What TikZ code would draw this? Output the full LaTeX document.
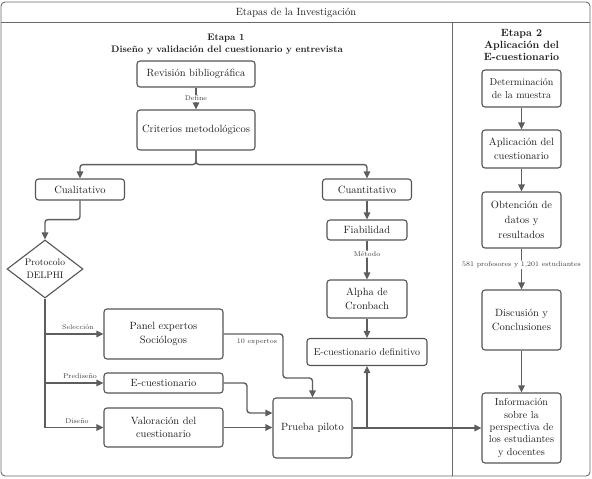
\documentclass[tikz,border=0pt]{standalone}
\usetikzlibrary{shapes.geometric,arrows.meta}
\definecolor{linegray}{HTML}{5E5E5E}
\definecolor{boxgray}{HTML}{555555}
\definecolor{framegray}{HTML}{6A6A6A}
\definecolor{txt}{HTML}{1E1E1E}
\begin{document}
\begin{tikzpicture}[x=1pt,y=-1pt,
  box/.style={draw=boxgray,line width=1.1pt,rounded corners=3pt,fill=white,align=center,inner sep=1pt,font=\fontsize{10.5}{13.5}\selectfont,text=txt},
  diabox/.style={draw=boxgray,line width=1.1pt,shape=diamond,fill=white,inner sep=0pt},
  arr/.style={draw=linegray,line width=1.4pt,-{Triangle[length=7pt,width=6.5pt]},rounded corners=3pt},
  ln/.style={draw=linegray,line width=1.4pt,rounded corners=3pt},
  lab/.style={font=\fontsize{7}{8.5}\selectfont,text=black!75,inner sep=1pt},
  head/.style={font=\bfseries\fontsize{9.5}{12}\selectfont,text=txt,align=center,inner sep=0pt},
  frame/.style={draw=framegray,line width=0.9pt}]
\useasboundingbox (0,0) rectangle (592,479);
% frame
\draw[frame,rounded corners=4pt] (1,2) rectangle (590,476);
\draw[frame] (1,22) -- (590,22);
\draw[frame] (452,22) -- (452,476);
\node[font=\fontsize{10.5}{12}\selectfont,text=txt] (title) at (296,12.5) {Etapas de la Investigación};
\node[head] (e1a) at (226,38) {Etapa 1};
\node[head] (e1b) at (227,50.5) {Diseño y validación del cuestionario y entrevista};
\node[head,font=\bfseries\fontsize{10.5}{12}\selectfont] (e2) at (521.5,44.5) {Etapa 2\\Aplicación del\\E-cuestionario};
% boxes
\node[box,minimum width=118pt,minimum height=26pt] (rev) at (196,74) {Revisión bibliográfica};
\node[box,minimum width=118pt,minimum height=40pt] (crit) at (196,130) {Criterios metodológicos};
\node[box,minimum width=89pt,minimum height=21pt] (cual) at (80,189.5) {Cualitativo};
\node[box,minimum width=89pt,minimum height=21pt] (cuan) at (367,189.5) {Cuantitativo};
\node[diabox,minimum width=76pt,minimum height=58pt,
      label={[font=\fontsize{9.5}{13}\selectfont,text=txt,align=center]center:Protocolo\\DELPHI}] (delphi) at (45,269) {};
\node[box,minimum width=119pt,minimum height=50pt] (panel) at (163.5,334) {Panel expertos\\Sociólogos};
\node[box,minimum width=119pt,minimum height=20pt] (ecue) at (163.5,383) {E-cuestionario};
\node[box,minimum width=119pt,minimum height=39pt] (valo) at (163.5,427.5) {Valoración del\\cuestionario};
\node[box,minimum width=79pt,minimum height=60pt] (prueba) at (312.5,428) {Prueba piloto};
\node[box,minimum width=80pt,minimum height=20pt] (fiab) at (367,230) {Fiabilidad};
\node[box,minimum width=80pt,minimum height=38pt] (alpha) at (367,299) {Alpha de\\Cronbach};
\node[box,minimum width=120pt,minimum height=27pt,font=\fontsize{10}{12}\selectfont] (edef) at (367,352) {E-cuestionario definitivo};
\node[box,minimum width=79pt,minimum height=37pt,font=\fontsize{10}{13}\selectfont] (det) at (521.5,88.5) {Determinación\\de la muestra};
\node[box,minimum width=79pt,minimum height=38pt] (apl) at (521.5,149) {Aplicación del\\cuestionario};
\node[box,minimum width=79pt,minimum height=56pt,font=\fontsize{10.5}{15}\selectfont] (obt) at (521.5,220) {Obtención de\\datos y\\resultados};
\node[box,minimum width=79pt,minimum height=60pt] (disc) at (521.5,320) {Discusión y\\Conclusiones};
\node[box,minimum width=79pt,minimum height=70pt,font=\fontsize{10.2}{12.3}\selectfont] (info) at (521.5,428) {Información\\sobre la\\perspectiva de\\los estudiantes\\y docentes};
% connectors
\draw[arr] (rev.south) -- node[lab,fill=white] (ldef) {Define} (crit.north);
\draw[arr] (crit.south) -- ++(0,14) -| (cual.north);
\draw[arr] (crit.south) -- ++(0,14) -| (cuan.north);
\draw[arr] (cual.south) -- ++(0,19) -| (delphi.north);
\draw[ln] (delphi.south) -- (delphi.south |- valo.west);
\draw[arr] (delphi.south |- panel.west) -- (panel.west);
\draw[arr] (delphi.south |- ecue.west) -- (ecue.west);
\draw[arr] (delphi.south |- valo.west) -- (valo.west);
\node[lab] (lsel) at (78,327) {Selección};
\node[lab] (lpre) at (80,376) {Prediseño};
\node[lab] (ldis) at (77,421) {Diseño};
\draw[arr] (panel.east) -- (283,334) -- (283,378) -- (prueba.north |- 0,378) -- (prueba.north);
\node[lab] (l10) at (257,342) {10 expertos};
\draw[arr] (ecue.east) -- (247,383) -- (247,413) -- (prueba.west |- 0,413);
\draw[arr] (valo.east) -- (valo.east -| prueba.west);
\draw[arr] (prueba.east) -- (info.west);
\draw[arr] (prueba.east -| edef.south) -- (edef.south);
\draw[arr] (cuan.south) -- (fiab.north);
\draw[arr] (fiab.south) -- node[lab,fill=white,pos=0.35] (lmet) {Método} (alpha.north);
\draw[arr] (alpha.south) -- (edef.north);
\draw[arr] (det.south) -- (apl.north);
\draw[arr] (apl.south) -- (obt.north);
\draw[arr] (obt.south) -- node[lab,fill=white,pos=0.4] (l581) {581 profesores y 1,201 estudiantes} (disc.north);
\draw[arr] (disc.south) -- (info.north);
\end{tikzpicture}
\end{document}
